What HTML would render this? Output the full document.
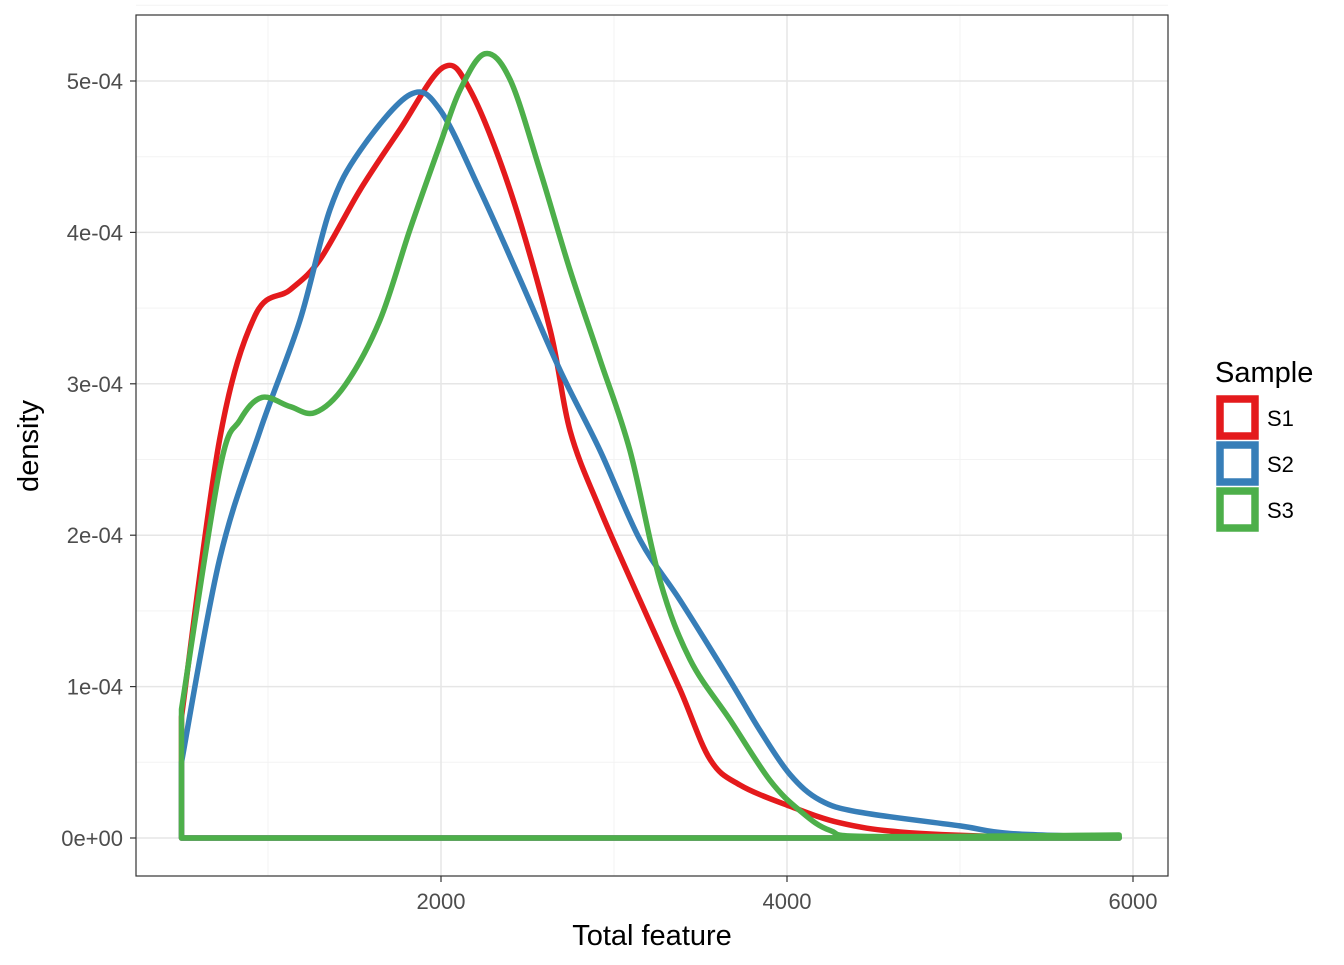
<!DOCTYPE html>
<html><head><meta charset="utf-8"><style>
body{margin:0;background:#fff;}
svg text{font-family:"Liberation Sans",Arial,sans-serif;}
</style></head><body>
<svg id="chart" width="1344" height="960" xmlns="http://www.w3.org/2000/svg">
<rect width="1344" height="960" fill="#fff"/>
<g id="grid"></g>
<g id="curves"></g>
<rect x="136" y="15" width="1032" height="861" fill="none" stroke="#333" stroke-width="1.2"/>
<g id="axes"></g>
<text x="652" y="945" font-size="29" text-anchor="middle" fill="#000">Total feature</text>
<text transform="translate(38,446) rotate(-90)" font-size="29" text-anchor="middle" fill="#000">density</text>
<g id="legend">
<text x="1215" y="382" font-size="29" fill="#000">Sample</text>
</g>
</svg>
<script>
const seriesNames=["S1","S2","S3"];
const seriesColors=["#E41A1C","#377EB8","#4DAF4A"];
const s1x=[500,720,925,1127,1300,1532,1763,2012,2168,2399,2630,2746,2919,3150,3382,3555,3728,4017,4306,4653,5231,5920];
const s1y=[0.8,2.63,3.45,3.62,3.82,4.28,4.68,5.09,4.94,4.28,3.36,2.69,2.17,1.57,0.98,0.52,0.35,0.21,0.1,0.04,0.01,0.005];
const s2x=[500,720,954,1185,1358,1532,1821,1994,2225,2457,2688,2919,3150,3382,3671,3844,4017,4191,4422,5000,5289,5920];
const s2y=[0.5,1.84,2.69,3.42,4.15,4.54,4.91,4.81,4.28,3.69,3.09,2.56,1.97,1.57,1.04,0.71,0.42,0.25,0.17,0.08,0.03,0.005];
const s3x=[500,720,838,965,1127,1272,1445,1647,1821,1994,2110,2254,2399,2572,2746,2919,3092,3266,3439,3671,3902,4075,4249,4500,5920];
const s3y=[0.85,2.43,2.76,2.91,2.85,2.81,2.99,3.42,4.02,4.58,4.94,5.18,5.01,4.41,3.75,3.16,2.56,1.7,1.18,0.78,0.38,0.18,0.05,0.01,0.02];
const xTicks=[2000,4000,6000];
const xMinor=[1000,3000,5000];
const yTicks=[0,1,2,3,4,5];
const yTickLabels=["0e+00","1e-04","2e-04","3e-04","4e-04","5e-04"];
const xs=v=>95+v*0.173;
const ys=v=>838-v*151.4;
const NS="http://www.w3.org/2000/svg";
function mk(tag,attrs,parent){const e=document.createElementNS(NS,tag);for(const k in attrs)e.setAttribute(k,attrs[k]);parent.appendChild(e);return e;}
const grid=document.getElementById('grid'),axes=document.getElementById('axes'),curves=document.getElementById('curves'),legend=document.getElementById('legend');
xMinor.forEach(v=>{const l=mk('line',{x1:xs(v),x2:xs(v),y1:15,y2:876,stroke:'#f3f3f3','stroke-width':1},grid);

});
yTicks.forEach(v=>{const l=mk('line',{x1:136,x2:1168,y1:ys(v+0.5),y2:ys(v+0.5),stroke:'#f3f3f3','stroke-width':1},grid);

});
xTicks.forEach(v=>{const l=mk('line',{x1:xs(v),x2:xs(v),y1:15,y2:876,stroke:'#e6e6e6','stroke-width':1.5},grid);


const t=mk('line',{x1:xs(v),x2:xs(v),y1:876,y2:882,stroke:'#333','stroke-width':1.2},axes);


const tx=mk('text',{x:xs(v),y:909,'font-size':22,'text-anchor':'middle',fill:'#4d4d4d'},axes);tx.textContent=v;

});
yTicks.forEach((v,i)=>{const l=mk('line',{x1:136,x2:1168,y1:ys(v),y2:ys(v),stroke:'#e6e6e6','stroke-width':1.5},grid);


const t=mk('line',{x1:130,x2:136,y1:ys(v),y2:ys(v),stroke:'#333','stroke-width':1.2},axes);


const tx=mk('text',{x:123,y:ys(v)+8,'font-size':22,'text-anchor':'end',fill:'#4d4d4d'},axes);tx.textContent=yTickLabels[i];

});
function smoothPath(P){
 let d='M'+P[0][0]+','+P[0][1];
 for(let i=0;i<P.length-1;i++){
  const p0=P[Math.max(i-1,0)],p1=P[i],p2=P[i+1],p3=P[Math.min(i+2,P.length-1)];
  const c1=[p1[0]+(p2[0]-p0[0])/6,p1[1]+(p2[1]-p0[1])/6];
  const c2=[p2[0]-(p3[0]-p1[0])/6,p2[1]-(p3[1]-p1[1])/6];
  d+=' C'+c1[0]+','+c1[1]+' '+c2[0]+','+c2[1]+' '+p2[0]+','+p2[1];
 }
 return d;
}
[[s1x,s1y],[s2x,s2y],[s3x,s3y]].forEach((s,i)=>{
 const P=s[0].map((x,j)=>[xs(x),ys(s[1][j])]);
 let d=smoothPath(P)+' L'+xs(s[0][s[0].length-1])+','+ys(0)+' L'+xs(s[0][0])+','+ys(0)+' Z';
 const p=mk('path',{d:d,fill:'none',stroke:seriesColors[i],'stroke-width':5.5,'stroke-linejoin':'round'},curves);
 
 
 const k=mk('rect',{x:1220,y:399+i*46,width:35,height:37,fill:'#fff',stroke:seriesColors[i],'stroke-width':7.5},legend);
 
 
 const t=mk('text',{x:1267,y:426+i*46,'font-size':22,fill:'#000'},legend);t.textContent=seriesNames[i];
 
 
});
</script>
</body></html>
